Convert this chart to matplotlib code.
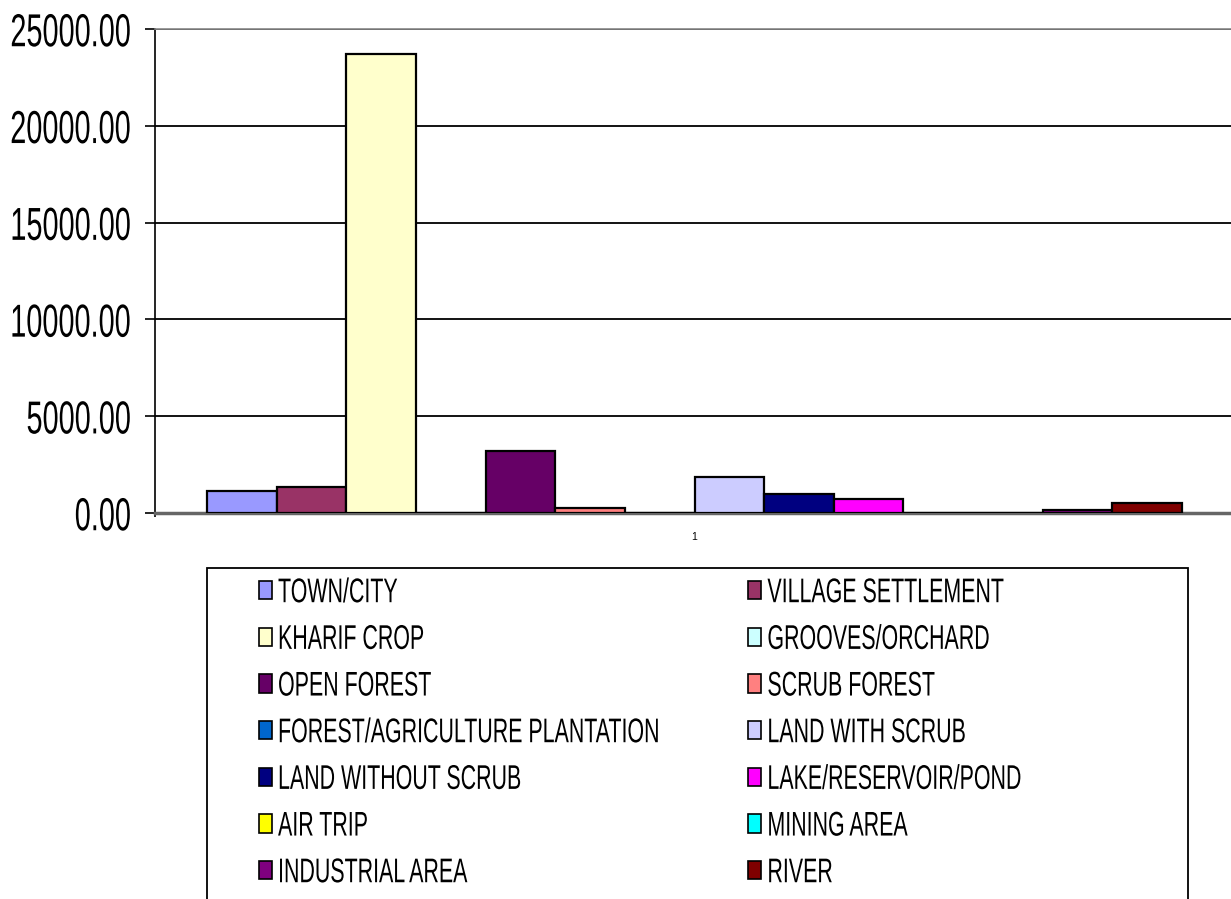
import numpy as np
import matplotlib.pyplot as plt
from matplotlib.patches import Rectangle, Patch
from matplotlib.patheffects import AbstractPathEffect
from matplotlib.transforms import Affine2D

# land use classes (one series each, single category "1")
classes = ['TOWN/CITY', 'VILLAGE SETTLEMENT', 'KHARIF CROP', 'GROOVES/ORCHARD',
           'OPEN FOREST', 'SCRUB FOREST', 'FOREST/AGRICULTURE PLANTATION',
           'LAND WITH SCRUB', 'LAND WITHOUT SCRUB', 'LAKE/RESERVOIR/POND',
           'AIR TRIP', 'MINING AREA', 'INDUSTRIAL AREA', 'RIVER']
areas = [1120, 1360, 23700, 0, 3200, 240, 0, 1840, 1000, 740, 0, 0, 150, 540]
colors = ['#9999FF', '#993366', '#FFFFCC', '#CCFFFF', '#660066', '#FF8080',
          '#0066CC', '#CCCCFF', '#000080', '#FF00FF', '#FFFF00', '#00FFFF',
          '#800080', '#800000']
yticks = [0, 5000, 10000, 15000, 20000, 25000]
category = '1'

plt.rcParams['font.family'] = ['Liberation Sans', 'DejaVu Sans']


class Tall(AbstractPathEffect):
    # the original text is narrow and tall; stretch glyphs about their cap centre
    def __init__(self, sy):
        super().__init__()
        self.sy = sy

    def draw_path(self, renderer, gc, tpath, affine, rgbFace=None):
        st = Affine2D().translate(0, -36).scale(1, self.sy).translate(0, 36)
        renderer.draw_path(gc, tpath, st + affine, rgbFace)


W, H = 1231, 899
fig = plt.figure(figsize=(W / 100, H / 100), dpi=100)
ax = fig.add_axes([155 / W, 1 - 513 / H, (1234 - 155) / W, (513 - 29) / H])

x = np.arange(len(areas))
ax.bar(x, areas, width=1.0, color=colors, edgecolor='black', linewidth=1.6, zorder=3)

ax.set_xlim(-1.25, len(areas) + 0.25)
ax.set_ylim(0, 25000)
ax.set_yticks(yticks)
ax.set_yticklabels(['%.2f' % v for v in yticks], fontsize=20.8)
ax.tick_params(axis='y', length=7.2, width=1.2, color='black', pad=10)
for lbl in ax.get_yticklabels():
    lbl.set_path_effects([Tall(1.6)])

ax.set_xticks([(len(areas) - 1) / 2])
ax.set_xticklabels([category], fontsize=7.5)
ax.tick_params(axis='x', length=0, pad=14)
ax.set_xticks([-1.25], minor=True)
ax.tick_params(axis='x', which='minor', length=3, width=1.2, color='black')

ax.yaxis.grid(True, color='black', linewidth=1.3, zorder=0)
ax.set_axisbelow(True)
ax.spines['top'].set_color('#888888')
ax.spines['top'].set_linewidth(1.2)
ax.spines['right'].set_visible(False)
ax.spines['left'].set_color('black')
ax.spines['left'].set_linewidth(1.2)
ax.spines['bottom'].set_color('#666666')
ax.spines['bottom'].set_linewidth(2.5)

# legend, filled row by row like the original
handles = [Patch(facecolor=c, edgecolor='black', linewidth=1.2) for c in colors]
order = list(range(0, len(classes), 2)) + list(range(1, len(classes), 2))
leg = fig.legend([handles[i] for i in order], [classes[i] for i in order],
                 ncol=2, loc='upper left', bbox_to_anchor=(259 / W, 1 - 581 / H),
                 frameon=False, fontsize=15.4, borderpad=0, borderaxespad=0,
                 handlelength=0.61, handleheight=0.95, handletextpad=0.28,
                 labelspacing=1.22, columnspacing=4.16)
for t in leg.get_texts():
    t.set_path_effects([Tall(1.6)])

fig.add_artist(Rectangle((207 / W, -0.01), (1188 - 207) / W, 0.01 + (899 - 568) / H,
                         transform=fig.transFigure, fill=False,
                         edgecolor='black', linewidth=1.3))

fig.savefig('out.png', dpi=100)
